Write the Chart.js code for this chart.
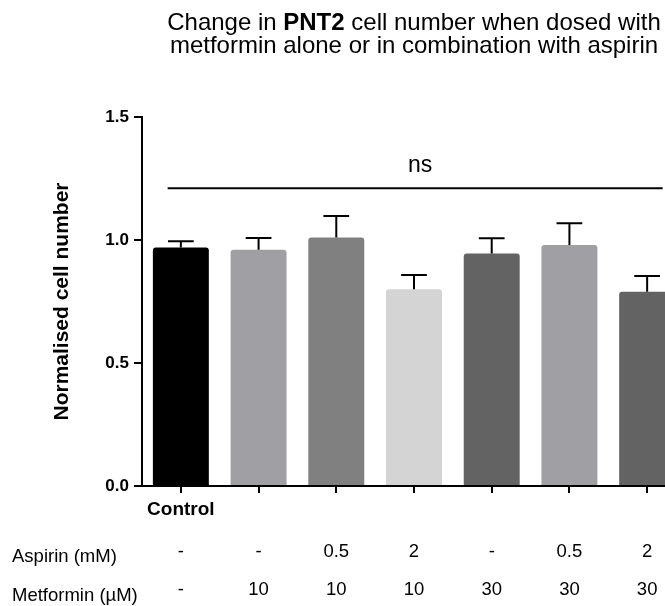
<!DOCTYPE html>
<html>
<head>
<meta charset="utf-8">
<script src="https://cdn.jsdelivr.net/npm/chart.js@4/dist/chart.umd.min.js"></script>
<style>
  html, body { margin: 0; padding: 0; background: #fff; overflow: hidden; }
  #wrap { width: 700px; height: 606px; }
</style>
</head>
<body>
<div id="wrap"><canvas id="cellChart" width="700" height="606"></canvas></div>
<script>
// Dados do gráfico
const groups = ['Control', 'M10', 'M10+A0.5', 'M10+A2', 'M30', 'M30+A0.5', 'M30+A2'];
const cellNumber = [0.97, 0.96, 1.01, 0.80, 0.945, 0.98, 0.79];
const cellError = [0.025, 0.048, 0.088, 0.058, 0.062, 0.088, 0.064];
const barColors = ['#000000', '#a0a0a4', '#808080', '#d4d4d4', '#636363', '#a0a0a4', '#636363'];
const aspirinDose = ['-', '-', '0.5', '2', '-', '0.5', '2'];
const metforminDose = ['-', '10', '10', '10', '30', '30', '30'];
const yTicks = [0, 0.5, 1.0, 1.5];

// Linha de significância (em unidades de categoria / valor)
const nsFrom = -0.17;
const nsTo = 6.2;
const nsLevel = 1.21;

const FONT = "'Liberation Sans', Arial, sans-serif";

const errorBars = {
    id: 'errorBars',
    afterDatasetsDraw(chart) {
        const ctx = chart.ctx;
        const yAxis = chart.scales.y;
        const meta = chart.getDatasetMeta(0);
        ctx.save();
        ctx.strokeStyle = '#000';
        ctx.lineWidth = 2;
        meta.data.forEach((bar, i) => {
            const yBar = yAxis.getPixelForValue(cellNumber[i]);
            const yTop = yAxis.getPixelForValue(cellNumber[i] + cellError[i]);
            const half = bar.width * 0.23;
            ctx.beginPath();
            ctx.moveTo(bar.x, yBar);
            ctx.lineTo(bar.x, yTop);
            ctx.moveTo(bar.x - half, yTop);
            ctx.lineTo(bar.x + half, yTop);
            ctx.stroke();
        });
        ctx.restore();
    }
};

const annotations = {
    id: 'annotations',
    afterDraw(chart) {
        const ctx = chart.ctx;
        const xAxis = chart.scales.x;
        const yAxis = chart.scales.y;
        const area = chart.chartArea;
        ctx.save();

        // Linha "ns"
        const x1 = xAxis.getPixelForValue(nsFrom);
        const x2 = xAxis.getPixelForValue(nsTo);
        const yLine = yAxis.getPixelForValue(nsLevel);
        ctx.strokeStyle = '#000';
        ctx.lineWidth = 2;
        ctx.beginPath();
        ctx.moveTo(x1, yLine);
        ctx.lineTo(x2, yLine);
        ctx.stroke();
        ctx.fillStyle = '#000';
        ctx.font = '23px ' + FONT;
        ctx.textAlign = 'center';
        ctx.textBaseline = 'alphabetic';
        ctx.fillText('ns', (x1 + x2) / 2 + 5, yLine - 16);

        // Título (com PNT2 em negrito)
        const cx = (area.left + area.right) / 2;
        const parts = [
            { t: 'Change in ', f: '24px ' + FONT },
            { t: 'PNT2', f: 'bold 24px ' + FONT },
            { t: ' cell number when dosed with', f: '24px ' + FONT }
        ];
        let total = 0;
        parts.forEach(p => { ctx.font = p.f; p.w = ctx.measureText(p.t).width; total += p.w; });
        let x = cx - total / 2;
        ctx.textAlign = 'left';
        parts.forEach(p => { ctx.font = p.f; ctx.fillText(p.t, x, 30); x += p.w; });
        ctx.font = '24px ' + FONT;
        ctx.textAlign = 'center';
        ctx.fillText('metformin alone or in combination with aspirin', cx, 53);

        // Linhas de dose
        ctx.font = '18.5px ' + FONT;
        ctx.textAlign = 'left';
        ctx.fillText('Aspirin (mM)', 12, 562);
        ctx.fillText('Metformin (\u00b5M)', 12, 601);
        ctx.textAlign = 'center';
        groups.forEach((g, i) => {
            const px = xAxis.getPixelForValue(i);
            ctx.fillText(aspirinDose[i], px, 557);
            ctx.fillText(metforminDose[i], px, 595);
        });
        ctx.restore();
    }
};

new Chart(document.getElementById('cellChart'), {
    type: 'bar',
    data: {
        labels: groups,
        datasets: [{
            data: cellNumber,
            backgroundColor: barColors,
            borderWidth: 0,
            borderRadius: { topLeft: 3, topRight: 3 },
            borderSkipped: 'bottom',
            barPercentage: 0.72,
            categoryPercentage: 1
        }]
    },
    options: {
        responsive: false,
        animation: false,
        layout: { padding: { top: 117, right: 14, left: 0, bottom: 0 } },
        plugins: {
            legend: { display: false },
            tooltip: { enabled: false }
        },
        scales: {
            x: {
                grid: {
                    offset: false,
                    drawOnChartArea: false,
                    color: '#000',
                    lineWidth: 2,
                    tickLength: 7
                },
                border: { color: '#000', width: 2 },
                ticks: {
                    color: '#000',
                    font: { family: FONT, size: 19, weight: 'bold' },
                    padding: 5,
                    maxRotation: 0,
                    autoSkip: false,
                    callback: (val, i) => i === 0 ? 'Control' : ''
                },
                afterFit: (scale) => { scale.height = 120; }
            },
            y: {
                min: 0,
                max: 1.5,
                afterBuildTicks: (scale) => { scale.ticks = yTicks.map(v => ({ value: v })); },
                grid: {
                    drawOnChartArea: false,
                    color: '#000',
                    lineWidth: 2,
                    tickLength: 8
                },
                border: { color: '#000', width: 2 },
                ticks: {
                    color: '#000',
                    font: { family: FONT, size: 17, weight: 'bold' },
                    padding: 5,
                    callback: (val) => Number(val).toFixed(1)
                },
                title: {
                    display: true,
                    text: 'Normalised cell number',
                    color: '#000',
                    font: { family: FONT, size: 21, weight: 'bold' },
                    padding: { top: 50, bottom: 0 }
                },
                afterFit: (scale) => { scale.width = 142; }
            }
        }
    },
    plugins: [errorBars, annotations]
});
</script>
</body>
</html>
